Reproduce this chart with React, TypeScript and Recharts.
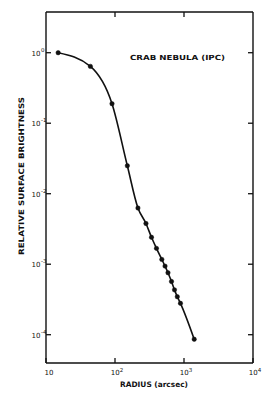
import { LineChart, Line, XAxis, YAxis } from "recharts";

// radius in arcsec, relative surface brightness
const radius = [15, 44, 90.5, 151, 215, 281, 338, 399, 477, 531, 586, 659, 728, 800, 889, 1406];
const brightness = [
	1.0, 0.64, 0.189, 0.0249, 0.00627, 0.00378, 0.00241, 0.00168, 0.00117, 0.00094,
	0.000757, 0.000569, 0.000433, 0.000346, 0.000279, 0.0000863,
];

const xTicks = [10, 100, 1000, 10000];
const yTicks = [1, 0.1, 0.01, 0.001, 0.0001];
const xExp = ["", "2", "3", "4"];
const yExp = ["0", "-1", "-2", "-3", "-4"];

const data = radius.map((r, i) => ({ r, b: brightness[i] }));

const INK = "#111";
const FONT = "'DejaVu Sans', sans-serif";
const TICK = 5;

// tick lines point inward (negative tickSize), so labels are pushed back out here
const BottomTick = (props: any) => {
	const { x, y, payload } = props;
	const i = xTicks.indexOf(payload.value);
	const base = y + TICK;
	return (
		<text x={x + (i === 0 ? 3 : 2)} y={base + 12} textAnchor="middle" fontSize={7} fontFamily={FONT} fill={INK}>
			10
			{xExp[i] && (
				<tspan dy={-3} fontSize={5.5}>
					{xExp[i]}
				</tspan>
			)}
		</text>
	);
};

const LeftTick = (props: any) => {
	const { x, y, payload } = props;
	const i = yTicks.indexOf(payload.value);
	const base = x - TICK;
	return (
		<g>
			<text x={base - 5.5} y={y + 3} textAnchor="end" fontSize={7} fontFamily={FONT} fill={INK}>
				10
			</text>
			<text x={base - 5} y={y - 1} textAnchor="start" fontSize={5.5} fontFamily={FONT} fill={INK}>
				{yExp[i]}
			</text>
		</g>
	);
};

const NoLabel = () => <g />;

const tickLine = { stroke: INK, strokeWidth: 1.3 };

export default function App() {
	return (
		<div style={{ position: "absolute", left: 0, top: 0, width: 270, height: 399, background: "#fff" }}>
			<LineChart width={270} height={399} data={data} margin={{ top: 11, right: 16, bottom: 0, left: 0 }}>
				<XAxis
					dataKey="r"
					type="number"
					scale="log"
					domain={[10, 10000]}
					ticks={xTicks}
					allowDataOverflow
					height={36}
					tickSize={-TICK}
					tickMargin={0}
					tick={<BottomTick />}
					tickLine={tickLine}
					stroke={INK}
					strokeWidth={1.4}
					interval={0}
				/>
				<XAxis
					xAxisId="top"
					orientation="top"
					dataKey="r"
					type="number"
					scale="log"
					domain={[10, 10000]}
					ticks={[100, 1000]}
					allowDataOverflow
					height={1}
					tickSize={-TICK}
					tickMargin={0}
					tick={<NoLabel />}
					tickLine={tickLine}
					stroke={INK}
					strokeWidth={1.4}
					interval={0}
				/>
				<YAxis
					dataKey="b"
					type="number"
					scale="log"
					domain={[3.97e-5, 3.78]}
					ticks={yTicks}
					allowDataOverflow
					width={46}
					tickSize={-TICK}
					tickMargin={0}
					tick={<LeftTick />}
					tickLine={tickLine}
					stroke={INK}
					strokeWidth={1.4}
					interval={0}
				/>
				<YAxis
					yAxisId="right"
					orientation="right"
					type="number"
					scale="log"
					domain={[3.97e-5, 3.78]}
					ticks={yTicks}
					allowDataOverflow
					width={1}
					tickSize={-TICK}
					tickMargin={0}
					tick={<NoLabel />}
					tickLine={tickLine}
					stroke={INK}
					strokeWidth={1.4}
					interval={0}
				/>
				<Line
					dataKey="b"
					type="monotone"
					stroke={INK}
					strokeWidth={1.6}
					dot={{ r: 2.2, fill: INK, stroke: INK, strokeWidth: 0.5 }}
					isAnimationActive={false}
				/>
				<text x={130} y={60} fontSize={7} fontWeight="bold" fontFamily={FONT} fill={INK} textLength={95} lengthAdjust="spacingAndGlyphs">
					CRAB NEBULA (IPC)
				</text>
				<text x={120} y={387} fontSize={7.5} fontWeight="bold" fontFamily={FONT} fill={INK} textLength={68} lengthAdjust="spacingAndGlyphs">
					RADIUS (arcsec)
				</text>
				<text
					x={0}
					y={0}
					transform="translate(24 255) rotate(-90)"
					fontSize={7.5}
					fontWeight="bold"
					fontFamily={FONT}
					fill={INK}
					textLength={158}
					lengthAdjust="spacingAndGlyphs"
				>
					RELATIVE SURFACE BRIGHTNESS
				</text>
			</LineChart>
		</div>
	);
}
